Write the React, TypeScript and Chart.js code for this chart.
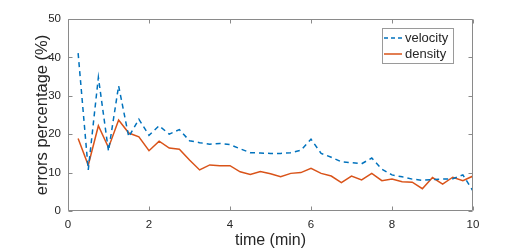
import React, { useEffect, useRef } from "react";
import { Chart, registerables } from "chart.js";

Chart.register(...registerables);

const times = [
  0.25, 0.5, 0.75, 1.0, 1.25, 1.5, 1.75, 2.0, 2.25, 2.5,
  2.75, 3.0, 3.25, 3.5, 3.75, 4.0, 4.25, 4.5, 4.75, 5.0,
  5.25, 5.5, 5.75, 6.0, 6.25, 6.5, 6.75, 7.0, 7.25, 7.5,
  7.75, 8.0, 8.25, 8.5, 8.75, 9.0, 9.25, 9.5, 9.75, 10.0,
];

const velocity = [
  41.1, 10.7, 34.8, 15.6, 32.6, 19.3, 23.9, 19.7, 22.2, 20.0,
  21.2, 18.3, 17.8, 17.4, 17.6, 17.3, 16.2, 15.2, 15.1, 15.0,
  15.0, 15.2, 15.8, 18.7, 15.0, 14.0, 12.8, 12.6, 12.3, 13.8,
  10.9, 9.4, 8.9, 8.3, 8.0, 8.2, 8.3, 8.4, 9.4, 5.2,
];

const density = [
  18.9, 11.9, 22.2, 16.5, 23.7, 20.3, 19.3, 15.7, 18.2, 16.4,
  16.1, 13.3, 10.7, 12.0, 11.8, 11.8, 10.2, 9.5, 10.3, 9.7,
  8.9, 9.8, 10.0, 11.1, 9.8, 9.1, 7.4, 9.1, 8.1, 9.8,
  7.9, 8.3, 7.6, 7.5, 5.8, 8.7, 7.0, 8.8, 7.9, 9.1,
];

const xTicks = [0, 2, 4, 6, 8, 10];
const yTicks = [0, 10, 20, 30, 40, 50];
const seriesNames = ["velocity", "density"];

const FONT = "'Liberation Sans', Arial, Helvetica, sans-serif";
const BLUE = "#0072BD";
const ORANGE = "#D95319";
const FRAME = "#8a8a8a";
const TEXT = "#262626";

const framePlugin = {
  id: "frame",
  afterDatasetsDraw(chart: any) {
    const { ctx, chartArea } = chart;
    const { left, right, top, bottom } = chartArea;
    const xs = chart.scales.x;
    const ys = chart.scales.y;
    ctx.save();
    ctx.strokeStyle = FRAME;
    ctx.lineWidth = 1;
    const L = Math.round(left) + 0.5;
    const R = Math.round(right) - 0.5;
    const T = Math.round(top) + 0.5;
    const B = Math.round(bottom) - 0.5;
    ctx.beginPath();
    ctx.rect(L, T, R - L, B - T);
    const tl = 4;
    xTicks.forEach((v) => {
      const x = Math.round(xs.getPixelForValue(v)) + 0.5;
      ctx.moveTo(x, B);
      ctx.lineTo(x, B - tl);
      ctx.moveTo(x, T);
      ctx.lineTo(x, T + tl);
    });
    yTicks.forEach((v) => {
      const y = Math.round(ys.getPixelForValue(v)) + 0.5;
      ctx.moveTo(L, y);
      ctx.lineTo(L + tl, y);
      ctx.moveTo(R, y);
      ctx.lineTo(R - tl, y);
    });
    ctx.stroke();

    // legend
    const bx = 382.5, by = 28.5, bw = 71, bh = 35;
    ctx.fillStyle = "#ffffff";
    ctx.fillRect(bx, by, bw, bh);
    ctx.strokeStyle = "#9a9a9a";
    ctx.strokeRect(bx, by, bw, bh);
    const rows = [
      { name: seriesNames[0], color: BLUE, dash: [4, 3], y: 38 },
      { name: seriesNames[1], color: ORANGE, dash: [], y: 54 },
    ];
    rows.forEach((r) => {
      ctx.beginPath();
      ctx.setLineDash(r.dash);
      ctx.strokeStyle = r.color;
      ctx.lineWidth = 1.5;
      ctx.moveTo(384, r.y);
      ctx.lineTo(402, r.y);
      ctx.stroke();
      ctx.setLineDash([]);
      ctx.fillStyle = TEXT;
      ctx.font = `13px ${FONT}`;
      ctx.textBaseline = "middle";
      ctx.textAlign = "left";
      ctx.fillText(r.name, 405, r.y);
    });
    ctx.restore();
  },
};

export default function App() {
  const ref = useRef<HTMLCanvasElement | null>(null);
  useEffect(() => {
    if (!ref.current) return;
    const chart = new Chart(ref.current, {
      type: "line",
      data: {
        datasets: [
          {
            label: seriesNames[0],
            data: times.map((t, i) => ({ x: t, y: velocity[i] })),
            borderColor: BLUE,
            borderWidth: 1.5,
            borderDash: [5, 4],
            pointRadius: 0,
            tension: 0,
            fill: false,
          },
          {
            label: seriesNames[1],
            data: times.map((t, i) => ({ x: t, y: density[i] })),
            borderColor: ORANGE,
            borderWidth: 1.5,
            pointRadius: 0,
            tension: 0,
            fill: false,
          },
        ],
      },
      options: {
        animation: false,
        responsive: true,
        maintainAspectRatio: false,
        layout: { padding: { top: 19, right: 50, left: 0, bottom: 0 } },
        plugins: { legend: { display: false }, tooltip: { enabled: false } },
        scales: {
          x: {
            type: "linear",
            min: 0,
            max: 10,
            afterBuildTicks: (s: any) => {
              s.ticks = xTicks.map((v) => ({ value: v }));
            },
            afterFit: (s: any) => {
              s.height = 39;
            },
            grid: { display: false, drawTicks: false },
            border: { display: false },
            ticks: {
              padding: 7,
              color: TEXT,
              font: { family: FONT, size: 11.5 },
              maxRotation: 0,
            },
            title: {
              display: true,
              text: "time (min)",
              color: TEXT,
              font: { family: FONT, size: 16 },
              padding: { top: 0, bottom: 0 },
            },
          },
          y: {
            min: 0,
            max: 50,
            afterBuildTicks: (s: any) => {
              s.ticks = yTicks.map((v) => ({ value: v }));
            },
            afterFit: (s: any) => {
              s.width = 68;
            },
            grid: { display: false, drawTicks: false },
            border: { display: false },
            ticks: {
              padding: 7,
              color: TEXT,
              font: { family: FONT, size: 11.5 },
            },
            title: {
              display: true,
              text: "errors percentage (%)",
              color: TEXT,
              font: { family: FONT, size: 16.5 },
              padding: { top: 33, bottom: 0 },
            },
          },
        },
      },
      plugins: [framePlugin],
    } as any);
    return () => chart.destroy();
  }, []);
  return (
    <div style={{ position: "absolute", left: 0, top: 0, width: 523, height: 250 }}>
      <canvas ref={ref} />
    </div>
  );
}
